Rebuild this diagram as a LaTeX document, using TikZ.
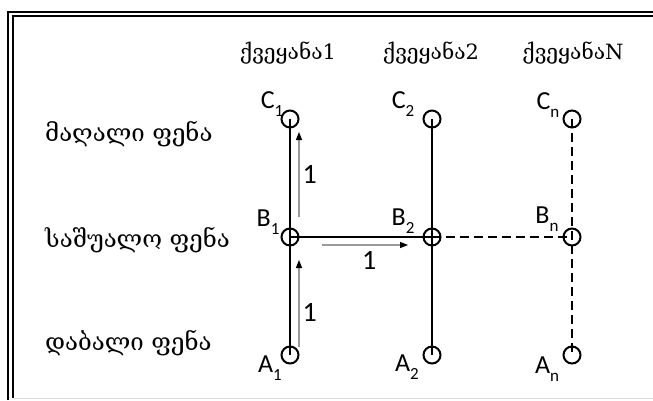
\documentclass[tikz,border=0pt]{standalone}
\usepackage{fontspec}
\usetikzlibrary{arrows.meta,positioning}
\setmainfont{Carlito}
\newfontfamily\geofont{DejaVu Serif}
\definecolor{FlowGray}{HTML}{9A9A9A}
\definecolor{EdgeGray}{HTML}{DCDCDC}
\newcommand\nsub[2]{#1\raisebox{-.3em}{\fontsize{17}{17}\selectfont #2}}
\tikzset{>=Stealth,site/.style={circle,draw,line width=2pt,minimum size=17pt,inner sep=0pt},
 tag/.style={font=\fontsize{26}{26}\selectfont,inner sep=0pt},
 geo/.style={font=\geofont\fontsize{21}{21}\selectfont,inner sep=0pt},
 row/.style={font=\geofont\fontsize{24}{24}\selectfont,inner sep=0pt,anchor=west},
 link/.style={line width=2.2pt},dlink/.style={line width=2pt,dash pattern=on 9pt off 5pt},
 flow/.style={draw=FlowGray,line width=1.2pt,-{Triangle[length=8pt,width=6pt,color=black]}},
 cost/.style={font=\fontsize{28}{28}\selectfont,inner sep=0pt}}
\begin{document}
\begin{tikzpicture}[x=1pt,y=-1pt]
\useasboundingbox (0,0) rectangle (653,400);
% frame
\draw[line width=2.6pt] (8,400)--(8,12)--(653,12);
\draw[line width=1.2pt] (13,398)--(13,16)--(653,16);
\draw[EdgeGray,line width=1.5pt] (14,398.5)--(653,398.5);
% headings
\foreach \x/\lab/\n in {288/1/h1,431/2/h2,573/N/hN}
 {\node[geo] (\n) at (\x,53) {ქვეყანა\lab};}
\node[row] (high) at (45,134) {მაღალი ფენა};
\node[row] (mid) at (45,240) {საშუალო ფენა};
\node[row] (low) at (45,343) {დაბალი ფენა};
% sites
\foreach \x/\i in {290/1,432/2,572/n}
 {\coordinate (c\i) at (\x,119); \coordinate (b\i) at (\x,237); \coordinate (a\i) at (\x,355);}
\draw[link] (c1)--(b1)--(a1);
\draw[link] (c2)--(b2)--(a2);
\draw[link] (b1)--(b2);
\draw[dlink] (b2)--(bn);
\draw[dlink] (cn)--(bn)--(an);
\foreach \i in {1,2,n}
 {\node[site] (C\i) at (c\i) {}; \node[site] (B\i) at (b\i) {}; \node[site] (A\i) at (a\i) {};}
\node[tag] (lC1) at (272,104) {\nsub{C}{1}};
\node[tag] (lC2) at (403,104) {\nsub{C}{2}};
\node[tag] (lCn) at (548,105) {\nsub{C}{n}};
\node[tag] (lB1) at (268,222) {\nsub{B}{1}};
\node[tag] (lB2) at (403,221) {\nsub{B}{2}};
\node[tag] (lBn) at (547,219) {\nsub{B}{n}};
\node[tag] (lA1) at (270,368) {\nsub{A}{1}};
\node[tag] (lA2) at (407,367) {\nsub{A}{2}};
\node[tag] (lAn) at (547,369) {\nsub{A}{n}};
% moves
\draw[flow] ([shift={(9,-20)}]B1.center)--([shift={(9,13)}]C1.center)
 node[cost,midway,right=3pt] (w1) {1};
\draw[flow] ([shift={(9,-8)}]A1.center)--([shift={(9,23)}]B1.center)
 node[cost,pos=.4,right=3pt] (w2) {1};
\draw[flow] ([shift={(32,8)}]B1.center)--([shift={(-24,8)}]B2.center)
 node[cost,pos=.55,below=6pt] (w3) {1};
\end{tikzpicture}
\end{document}
